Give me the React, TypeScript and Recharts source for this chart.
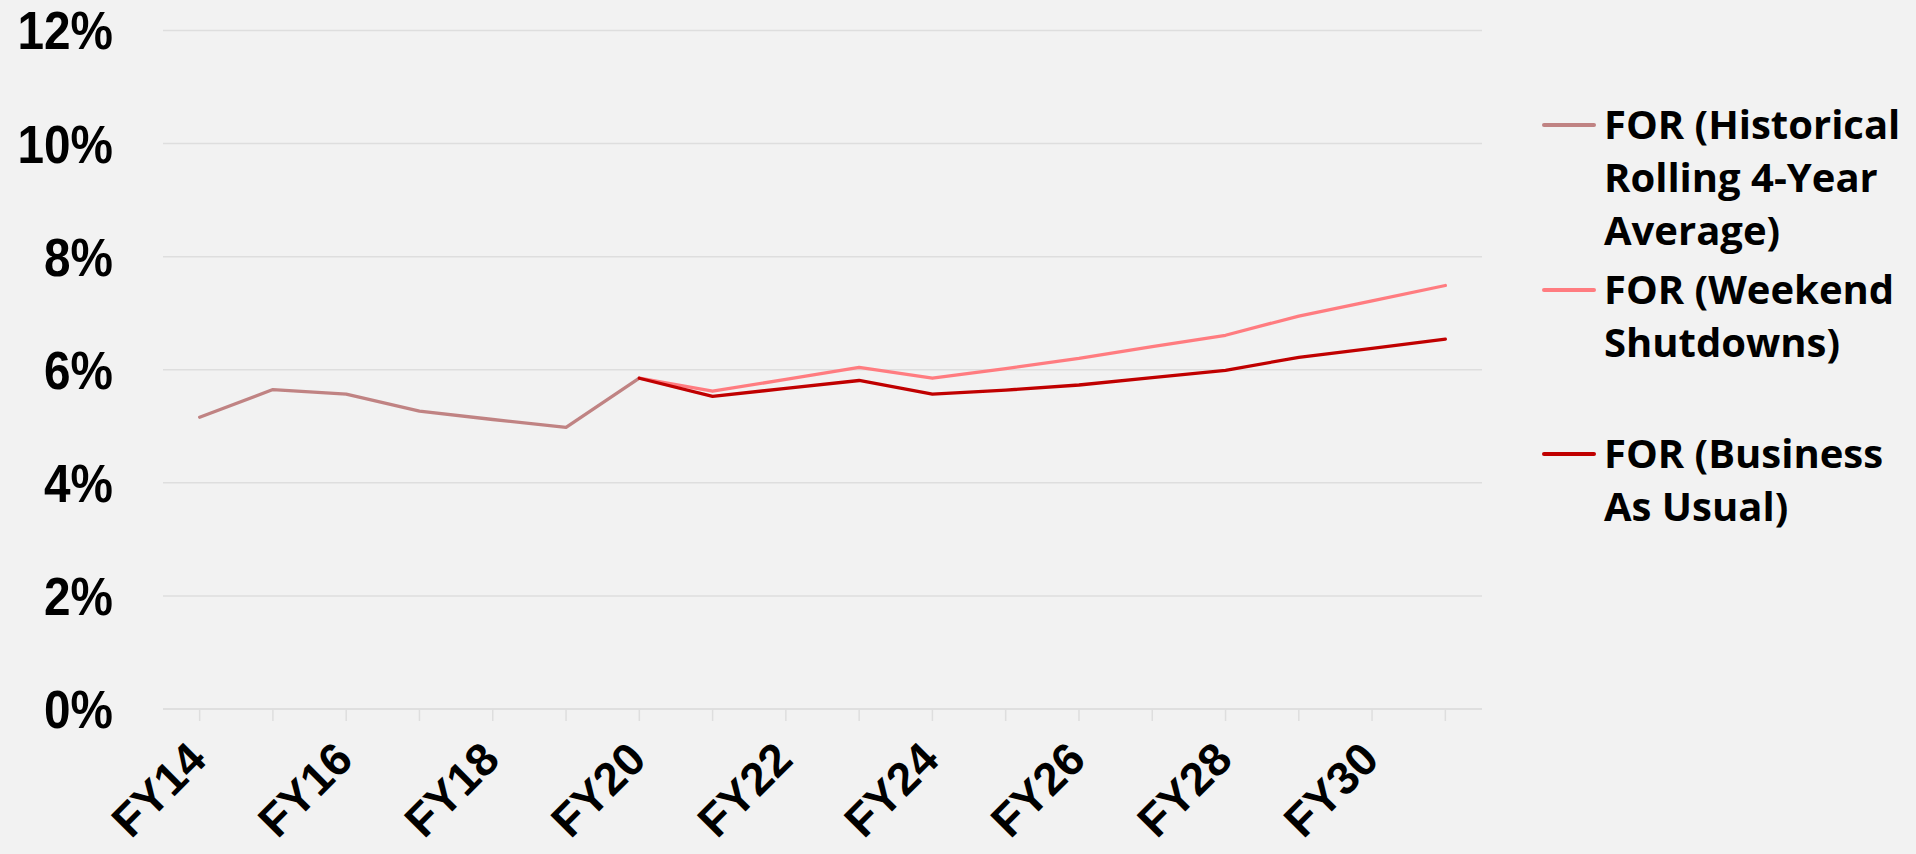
import React from 'react';
import { LineChart, Line, XAxis, YAxis, CartesianGrid, Legend } from 'recharts';

const categories = ['FY14', 'FY15', 'FY16', 'FY17', 'FY18', 'FY19', 'FY20', 'FY21', 'FY22', 'FY23', 'FY24', 'FY25', 'FY26', 'FY27', 'FY28', 'FY29', 'FY30', 'FY31'];
const historical: (number | null)[] = [5.16, 5.65, 5.57, 5.27, 5.12, 4.98, 5.85, null, null, null, null, null, null, null, null, null, null, null];
const weekend: (number | null)[] = [null, null, null, null, null, null, 5.85, 5.62, 5.83, 6.04, 5.85, 6.02, 6.2, 6.41, 6.61, 6.95, 7.22, 7.49];
const bau: (number | null)[] = [null, null, null, null, null, null, 5.85, 5.53, 5.67, 5.81, 5.57, 5.64, 5.73, 5.86, 5.99, 6.22, 6.38, 6.54];
const yTicks = [0, 2, 4, 6, 8, 10, 12];

const seriesNames = ['FOR (Historical Rolling 4-Year Average)', 'FOR (Weekend Shutdowns)', 'FOR (Business As Usual)'];
const legendLines = [
  ['FOR (Historical', 'Rolling 4-Year', 'Average)'],
  ['FOR (Weekend', 'Shutdowns)'],
  ['FOR (Business', 'As Usual)'],
];
const colors = ['#C08383', '#FF7C80', '#C00000'];

const data = categories.map((c, i) => ({ cat: c, historical: historical[i], weekend: weekend[i], bau: bau[i] }));

const XTick = (props: any) => {
  const { x, y, payload, index } = props;
  if (index % 2 !== 0) return null;
  const ax = x + 9;
  const ay = y + 39;
  return (
    <text
      x={ax}
      y={ay}
      textAnchor="end"
      transform={`rotate(-45 ${ax} ${ay})`}
      fontFamily="'Liberation Sans', Arial, sans-serif"
      fontWeight={700}
      fontSize={46}
      fill="#000"
    >
      {payload.value}
    </text>
  );
};

const YTick = (props: any) => {
  const { x, y, payload } = props;
  return (
    <text
      x={0}
      y={0}
      dy="0.358em"
      textAnchor="end"
      transform={`translate(${x},${y}) scale(0.9,1)`}
      fontFamily="'Liberation Sans', Arial, sans-serif"
      fontWeight={700}
      fontSize={53}
      fill="#000"
    >
      {`${payload.value}%`}
    </text>
  );
};

const LegendBlock = () => (
  <div style={{ position: 'relative', width: 374, height: 500 }}>
    {legendLines.map((lines, i) => (
      <div key={i} style={{ position: 'absolute', left: 0, top: i * 164.5, display: 'flex', alignItems: 'flex-start' }}>
        <div style={{ width: 54, height: 4, background: colors[i], marginTop: 26, borderRadius: 2 }} />
        <div
          style={{
            marginLeft: 8,
            fontFamily: "'Open Sans', sans-serif",
            fontWeight: 700,
            fontSize: 40,
            lineHeight: '53px',
            color: '#000',
            whiteSpace: 'nowrap',
          }}
        >
          {lines.map((l, j) => (
            <div key={j}>{l}</div>
          ))}
        </div>
      </div>
    ))}
  </div>
);

export default function App() {
  return (
    <div style={{ position: 'absolute', left: 0, top: 0, width: 1916, height: 854, background: '#F2F2F2' }}>
      <LineChart
        width={1916}
        height={854}
        data={data}
        margin={{ top: 30.5, right: 434, left: 0, bottom: 0 }}
      >
        <CartesianGrid vertical={false} stroke="#DEDEDE" strokeWidth={1.5} />
        <XAxis
          dataKey="cat"
          interval={0}
          height={145}
          padding={{ left: 36.65, right: 36.65 }}
          axisLine={{ stroke: '#DEDEDE', strokeWidth: 1.5 }}
          tickLine={{ stroke: '#DEDEDE', strokeWidth: 1.5 }}
          tickSize={12}
          tick={<XTick />}
        />
        <YAxis
          type="number"
          domain={[0, 12]}
          ticks={yTicks}
          width={163}
          axisLine={false}
          tickLine={false}
          tickSize={0}
          tickMargin={50}
          tick={<YTick />}
        />
        <Legend
          layout="horizontal"
          verticalAlign="middle"
          align="center"
          wrapperStyle={{ left: 1542, top: 97, width: 374, height: 500 }}
          content={() => <LegendBlock />}
        />
        <Line type="linear" dataKey="historical" name={seriesNames[0]} stroke={colors[0]} strokeWidth={3.3} dot={false} activeDot={false} strokeLinecap="round" strokeLinejoin="round" isAnimationActive={false} />
        <Line type="linear" dataKey="weekend" name={seriesNames[1]} stroke={colors[1]} strokeWidth={3.3} dot={false} activeDot={false} strokeLinecap="round" strokeLinejoin="round" isAnimationActive={false} />
        <Line type="linear" dataKey="bau" name={seriesNames[2]} stroke={colors[2]} strokeWidth={3.3} dot={false} activeDot={false} strokeLinecap="round" strokeLinejoin="round" isAnimationActive={false} />
      </LineChart>
    </div>
  );
}
